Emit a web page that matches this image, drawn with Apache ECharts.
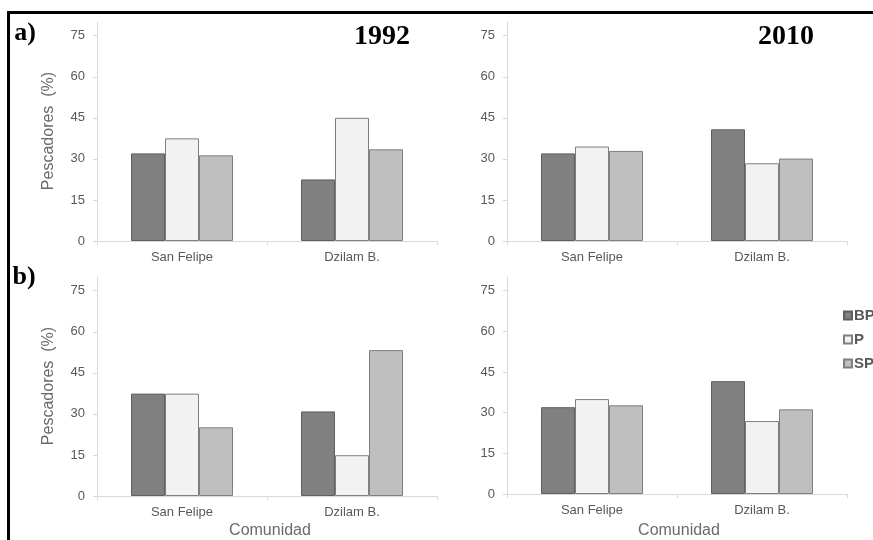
<!DOCTYPE html>
<html>
<head>
<meta charset="utf-8">
<script src="https://cdn.jsdelivr.net/npm/echarts@6/dist/echarts.min.js"></script>
<style>
html,body{margin:0;padding:0;background:#fff;}
#c{width:873px;height:540px;}
</style>
</head>
<body>
<div id="c"></div>
<script>
// ---- data ----
var categories = ['San Felipe', 'Dzilam B.'];
var seriesNames = ['BP', 'P', 'SP'];
var yTicks = [0, 15, 30, 45, 60, 75];
// panel a) 1992
var a1992_BP = [32.0, 22.5];
var a1992_P  = [37.5, 45.0];
var a1992_SP = [31.3, 33.5];
// panel a) 2010
var a2010_BP = [32.0, 40.8];
var a2010_P  = [34.5, 28.4];
var a2010_SP = [32.9, 30.1];
// panel b) 1992
var b1992_BP = [37.4, 30.9];
var b1992_P  = [37.4, 14.9];
var b1992_SP = [25.1, 53.3];
// panel b) 2010
var b2010_BP = [32.0, 41.6];
var b2010_P  = [35.0, 26.9];
var b2010_SP = [32.7, 31.2];
var panelTitles = ['1992', '2010'];
var panelLetters = ['a)', 'b)'];
var yName = 'Pescadores  (%)';
var xName = 'Comunidad';

var panels = [
  [a1992_BP, a1992_P, a1992_SP],
  [a2010_BP, a2010_P, a2010_SP],
  [b1992_BP, b1992_P, b1992_SP],
  [b2010_BP, b2010_P, b2010_SP]
];

var colors = ['#808080', '#f2f2f2', '#bfbfbf'];
var borders = ['#5f5f5f', '#7f7f7f', '#7f7f7f'];
var textGray = '#595959';
var axisGray = '#d9d9d9';
var sans = 'Liberation Sans, Arial, sans-serif';
var serif = 'Liberation Serif, Times New Roman, serif';

var grids = [
  {left: 97, top: 22, width: 340, height: 219},
  {left: 507, top: 22, width: 340, height: 219},
  {left: 97, top: 277, width: 340, height: 219},
  {left: 507, top: 277, width: 340, height: 217}
];

var xAxes = [], yAxes = [], series = [];
grids.forEach(function (g, i) {
  xAxes.push({
    type: 'category', gridIndex: i, data: categories,
    axisLine: {lineStyle: {color: axisGray, width: 1}},
    axisTick: {show: true, length: 4, lineStyle: {color: axisGray}},
    axisLabel: {color: textGray, fontSize: 13, fontFamily: sans, margin: 10}
  });
  yAxes.push({
    type: 'value', gridIndex: i, min: 0, max: 80, interval: 15,
    axisLine: {show: true, lineStyle: {color: axisGray, width: 1}},
    axisTick: {show: true, length: 4, lineStyle: {color: axisGray}, customValues: yTicks},
    axisLabel: {color: textGray, fontSize: 13, fontFamily: sans, margin: 12, customValues: yTicks},
    splitLine: {show: false}
  });
  panels[i].forEach(function (vals, k) {
    series.push({
      type: 'bar', name: seriesNames[k], xAxisIndex: i, yAxisIndex: i,
      data: vals, barGap: '0%', barCategoryGap: '40%',
      itemStyle: {color: colors[k], borderColor: borders[k], borderWidth: 1},
      emphasis: {disabled: true}
    });
  });
});

var graphics = [
  {type: 'rect', shape: {x: 8.5, y: 12.5, width: 1000, height: 1000},
   style: {fill: 'none', stroke: '#000', lineWidth: 3}, silent: true},
  {type: 'text', x: 25, y: 33, style: {text: panelLetters[0], font: 'bold 26px ' + serif, fill: '#000', align: 'center', verticalAlign: 'middle'}},
  {type: 'text', x: 24, y: 277, style: {text: panelLetters[1], font: 'bold 26px ' + serif, fill: '#000', align: 'center', verticalAlign: 'middle'}},
  {type: 'text', x: 382, y: 37, style: {text: panelTitles[0], font: 'bold 28px ' + serif, fill: '#000', align: 'center', verticalAlign: 'middle'}},
  {type: 'text', x: 786, y: 37, style: {text: panelTitles[1], font: 'bold 28px ' + serif, fill: '#000', align: 'center', verticalAlign: 'middle'}},
  {type: 'text', x: 49, y: 131, rotation: Math.PI / 2, style: {text: yName, font: '16px ' + sans, fill: '#6a6a6a', align: 'center', verticalAlign: 'middle'}},
  {type: 'text', x: 49, y: 386, rotation: Math.PI / 2, style: {text: yName, font: '16px ' + sans, fill: '#6a6a6a', align: 'center', verticalAlign: 'middle'}},
  {type: 'text', x: 270, y: 531, style: {text: xName, font: '16px ' + sans, fill: '#6a6a6a', align: 'center', verticalAlign: 'middle'}},
  {type: 'text', x: 679, y: 531, style: {text: xName, font: '16px ' + sans, fill: '#6a6a6a', align: 'center', verticalAlign: 'middle'}}
];

var chart = echarts.init(document.getElementById('c'), null, {renderer: 'canvas'});
chart.setOption({
  animation: false,
  backgroundColor: '#fff',
  grid: grids,
  xAxis: xAxes,
  yAxis: yAxes,
  series: series,
  legend: {
    data: seriesNames, orient: 'vertical', left: 838, top: 303,
    itemWidth: 8, itemHeight: 8, itemGap: 9, icon: 'rect',
    textStyle: {color: textGray, fontSize: 15, fontWeight: 'bold', fontFamily: sans, padding: [0, 0, 0, -3]},
    selectedMode: false
  },
  graphic: graphics
});
</script>
</body>
</html>
